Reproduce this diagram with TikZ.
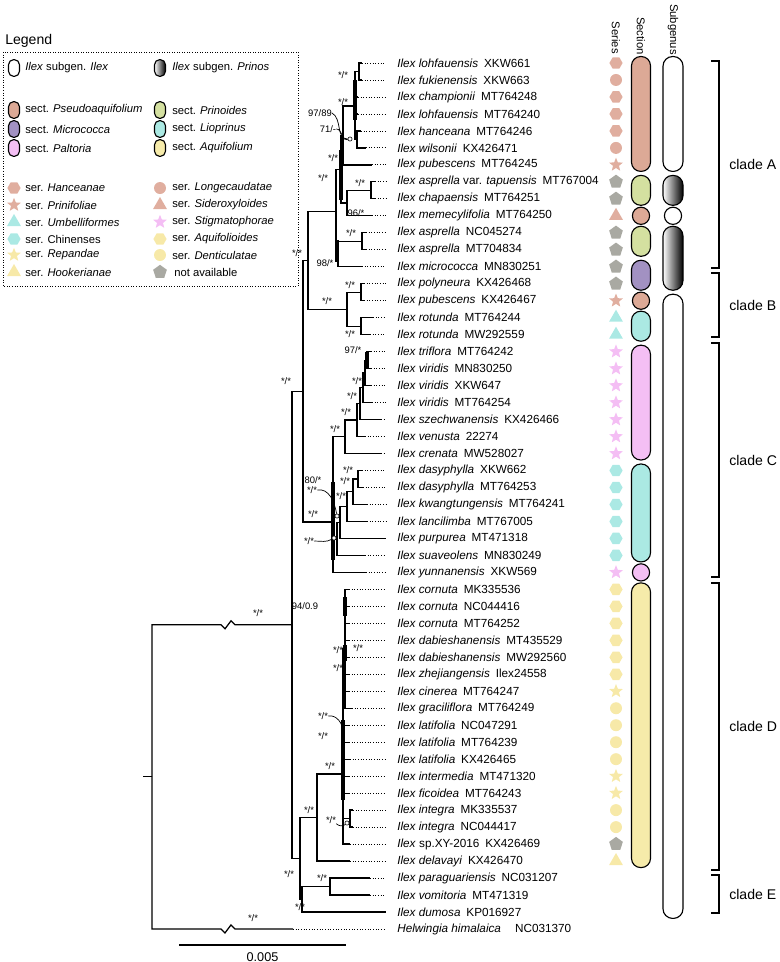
\documentclass[tikz,border=0pt]{standalone}
\usepackage{fontspec}
\setmainfont{Liberation Sans}
\usetikzlibrary{shapes.geometric}
\definecolor{secpseudo}{HTML}{DCA996}
\definecolor{secprin}{HTML}{D4E0A0}
\definecolor{secmicro}{HTML}{A291C2}
\definecolor{seclio}{HTML}{ABE9E3}
\definecolor{secpalt}{HTML}{F4BFF4}
\definecolor{secaqui}{HTML}{F6EBAA}
\definecolor{serpseudo}{HTML}{E0AE9F}
\definecolor{sercyan}{HTML}{ABE9E4}
\definecolor{serpink}{HTML}{F4BEF4}
\definecolor{seryellow}{HTML}{F7E9A8}
\definecolor{sergray}{HTML}{A9A9A2}
\newcommand{\accgap}{\hspace{0.5em}}
\tikzset{
  tree/.style={line width=0.9pt},
  thickbr/.style={line width=2.2pt},
  leader/.style={line width=0.6pt, dash pattern=on 0.6pt off 1.3pt},
  bslabel/.style={font=\fontsize{6.7}{7}\selectfont, inner sep=0pt},
  bsline/.style={line width=0.5pt},
  marker/.style={circle, draw, line width=0.4pt, fill=white, inner sep=0pt, minimum size=3pt},
  tipname/.style={anchor=west, inner sep=0pt, font=\fontsize{8.35}{10}\selectfont},
  sectcap/.style={draw, line width=0.8pt, rounded corners=2.3mm},
  subcap/.style={draw, line width=0.8pt, rounded corners=2.4mm},
  prinosfill/.style={left color=white, right color=black},
  cladebr/.style={line width=1.5pt},
  cladelbl/.style={anchor=west, inner sep=0pt, font=\fontsize{10}{12}\selectfont},
  colhead/.style={rotate=-90, anchor=east, inner sep=0pt, font=\fontsize{8}{9}\selectfont},
  legtxt/.style={anchor=west, inner sep=0pt, font=\fontsize{8}{9}\selectfont},
  legcap/.style={draw, line width=0.8pt, rounded corners=1.3mm, minimum width=2.75mm, minimum height=4.2mm, inner sep=0pt},
  sym/.style={inner sep=0pt, draw=none},
  hexS/.style={sym, regular polygon, regular polygon sides=6, minimum size=3.3mm, fill=serpseudo},
  hexC/.style={sym, regular polygon, regular polygon sides=6, minimum size=3.3mm, fill=sercyan},
  hexY/.style={sym, regular polygon, regular polygon sides=6, minimum size=3.3mm, fill=seryellow},
  circS/.style={sym, circle, minimum size=3mm, fill=serpseudo},
  circY/.style={sym, circle, minimum size=3mm, fill=seryellow},
  starS/.style={sym, star, star points=5, star point ratio=2.3, minimum size=3.6mm, fill=serpseudo},
  starP/.style={sym, star, star points=5, star point ratio=2.3, minimum size=3.6mm, fill=serpink},
  starY/.style={sym, star, star points=5, star point ratio=2.3, minimum size=3.6mm, fill=seryellow},
  triS/.style={sym, regular polygon, regular polygon sides=3, minimum size=4mm, fill=serpseudo},
  triC/.style={sym, regular polygon, regular polygon sides=3, minimum size=4mm, fill=sercyan},
  triY/.style={sym, regular polygon, regular polygon sides=3, minimum size=4mm, fill=seryellow},
  pentG/.style={sym, regular polygon, regular polygon sides=5, minimum size=3.6mm, fill=sergray},
}
\begin{document}
\begin{tikzpicture}[x=0.025cm, y=-0.025cm]
  \useasboundingbox (0,0) rectangle (780,962);
  \coordinate (dotend) at (386,0);

  % tips and names
  \foreach \i/\tx/\txt in {
    1/362/{\textit{Ilex lohfauensis}\accgap XKW661},
    2/362/{\textit{Ilex fukienensis}\accgap XKW663},
    3/358/{\textit{Ilex championii}\accgap MT764248},
    4/358/{\textit{Ilex lohfauensis}\accgap MT764240},
    5/361/{\textit{Ilex hanceana}\accgap MT764246},
    6/366/{\textit{Ilex wilsonii}\accgap KX426471},
    7/372/{\textit{Ilex pubescens}\accgap MT764245},
    8/375/{\textit{Ilex asprella} var. \textit{tapuensis}\accgap MT767004},
    9/375/{\textit{Ilex chapaensis}\accgap MT764251},
    10/372/{\textit{Ilex memecylifolia}\accgap MT764250},
    11/366/{\textit{Ilex asprella}\accgap NC045274},
    12/366/{\textit{Ilex asprella}\accgap MT704834},
    13/362/{\textit{Ilex micrococca}\accgap MN830251},
    14/364/{\textit{Ilex polyneura}\accgap KX426468},
    15/364/{\textit{Ilex pubescens}\accgap KX426467},
    16/373/{\textit{Ilex rotunda}\accgap MT764244},
    17/370/{\textit{Ilex rotunda}\accgap MW292559},
    18/371/{\textit{Ilex triflora}\accgap MT764242},
    19/371/{\textit{Ilex viridis}\accgap MN830250},
    20/371/{\textit{Ilex viridis}\accgap XKW647},
    21/372/{\textit{Ilex viridis}\accgap MT764254},
    22/381/{\textit{Ilex szechwanensis}\accgap KX426466},
    23/365/{\textit{Ilex venusta}\accgap 22274},
    24/381/{\textit{Ilex crenata}\accgap MW528027},
    25/362/{\textit{Ilex dasyphylla}\accgap XKW662},
    26/363/{\textit{Ilex dasyphylla}\accgap MT764253},
    27/367/{\textit{Ilex kwangtungensis}\accgap MT764241},
    28/367/{\textit{Ilex lancilimba}\accgap MT767005},
    29/385/{\textit{Ilex purpurea}\accgap MT471318},
    30/365/{\textit{Ilex suaveolens}\accgap MN830249},
    31/366/{\textit{Ilex yunnanensis}\accgap XKW569},
    32/349/{\textit{Ilex cornuta}\accgap MK335536},
    33/349/{\textit{Ilex cornuta}\accgap NC044416},
    34/349/{\textit{Ilex cornuta}\accgap MT764252},
    35/349/{\textit{Ilex dabieshanensis}\accgap MT435529},
    36/349/{\textit{Ilex dabieshanensis}\accgap MW292560},
    37/349/{\textit{Ilex zhejiangensis}\accgap Ilex24558},
    38/349/{\textit{Ilex cinerea}\accgap MT764247},
    39/352/{\textit{Ilex graciliflora}\accgap MT764249},
    40/349/{\textit{Ilex latifolia}\accgap NC047291},
    41/349/{\textit{Ilex latifolia}\accgap MT764239},
    42/350/{\textit{Ilex latifolia}\accgap KX426465},
    43/349/{\textit{Ilex intermedia}\accgap MT471320},
    44/349/{\textit{Ilex ficoidea}\accgap MT764243},
    45/353/{\textit{Ilex integra}\accgap MK335537},
    46/353/{\textit{Ilex integra}\accgap NC044417},
    47/350/{\textit{Ilex} sp.XY-2016\accgap KX426469},
    48/350/{\textit{Ilex delavayi}\accgap KX426470},
    49/370/{\textit{Ilex paraguariensis}\accgap NC031207},
    50/370/{\textit{Ilex vomitoria}\accgap MT471319},
    51/386/{\textit{Ilex dumosa}\accgap KP016927},
    52/293/{\textit{Helwingia himalaica}\hspace{1.2em}NC031370}} {
    \coordinate (t\i) at (\tx,{63+(\i-1)*16.98});
    \node[tipname] (l\i) at (397,{63+(\i-1)*16.98}) {\txt};
    \draw[leader] (t\i) -- (t\i -| dotend);
  }

  % internal nodes
  \coordinate (a12) at (359,71.5);
  \coordinate (a56) at (357,139.4);
  \coordinate (aC) at (355,106);
  \coordinate (a7) at (343,135.5);
  \coordinate (a89) at (371,190.35);
  \coordinate (a810) at (347,203.1);
  \coordinate (a1) at (341,169.3);
  \coordinate (a1112) at (362,241.3);
  \coordinate (a2) at (338,254.05);
  \coordinate (aA) at (336,211.7);
  \coordinate (b1415) at (361,292.2);
  \coordinate (b1617) at (361,326.2);
  \coordinate (bB) at (347,309.2);
  \coordinate (aAB) at (308,260.45);
  \coordinate (c1819) at (367,360.2);
  \coordinate (c20) at (365,372.9);
  \coordinate (c21) at (363,387.8);
  \coordinate (c22) at (360,403.7);
  \coordinate (c23) at (357,420.1);
  \coordinate (c24) at (345,436.8);
  \coordinate (d2526) at (358,479);
  \coordinate (d27) at (353,491.75);
  \coordinate (d28) at (347,506.6);
  \coordinate (d29) at (340,522.5);
  \coordinate (d30) at (337,538.95);
  \coordinate (cC) at (333,522);
  \coordinate (aABC) at (303,391.2);
  \coordinate (dt) at (345,648.8);
  \coordinate (dint) at (350,818.5);
  \coordinate (dL) at (343,774);
  \coordinate (dD) at (317,817.5);
  \coordinate (e4950) at (330,886.4);
  \coordinate (eE) at (302,899.2);
  \coordinate (aDE) at (300,858.35);
  \coordinate (aIn) at (292,624.8);
  \coordinate (root) at (152,776.8);

  % branches
  \foreach \p/\c in {a12/t1, a12/t2, aC/a12, aC/t3, aC/t4, aC/a56, a56/t5, a56/t6,
      a7/aC, a7/t7, a89/t8, a89/t9, a810/a89, a810/t10, a1/a7, a1/a810,
      a1112/t11, a1112/t12, a2/a1112, a2/t13, aA/a1, aA/a2,
      b1415/t14, b1415/t15, b1617/t16, b1617/t17, bB/b1415, bB/b1617, aAB/aA, aAB/bB,
      c1819/t18, c1819/t19, c20/c1819, c20/t20, c21/c20, c21/t21, c22/c21, c22/t22,
      c23/c22, c23/t23, c24/c23, c24/t24, d2526/t25, d2526/t26, d27/d2526, d27/t27,
      d28/d27, d28/t28, d29/d28, d29/t29, d30/d29, d30/t30, cC/c24, cC/d30, cC/t31,
      aABC/aAB, aABC/cC,
      dt/t32, dt/t33, dt/t34, dt/t35, dt/t36, dt/t37, dt/t38, dt/t39,
      dint/t45, dint/t46, dL/dt, dL/t40, dL/t41, dL/t42, dL/t43, dL/t44, dL/dint, dL/t47,
      dD/dL, dD/t48, e4950/t49, e4950/t50, eE/e4950, eE/t51, aDE/dD, aDE/eE,
      aIn/aABC, aIn/aDE}
    \draw[tree] (\p) |- (\c);

  % short branches drawn heavy
  \draw[thickbr] (355,80) -- (355,120);
  \draw[thickbr] (341,150) -- (341,200);
  \draw[thickbr] (337,240) -- (337,262);
  \draw[thickbr] (367,352) -- (367,368);
  \draw[thickbr] (333,482) -- (333,560);
  \draw[thickbr] (345,597) -- (345,616);
  \draw[thickbr] (345,645) -- (345,661);
  \draw[thickbr] (343,720) -- (343,800);

  % root with broken branches
  \coordinate (zzA) at (221,624.8);
  \coordinate (zzB) at (221,928.9);
  \draw[tree] (root) |- (zzA) -- ++(4,4) -- ++(6,-8) -- ++(4,4) -- (aIn);
  \draw[tree] (root) |- (zzB) -- ++(4,4) -- ++(6,-8) -- ++(4,4) -- (t52);
  \draw[tree] (root) -- ++(-9,0);

  % support values
  \node[bslabel] (sA1) at (343,75) {*/*};
  \node[bslabel] (sA2) at (343,102) {*/*};
  \node[bslabel] (sA3) at (320,113) {97/89};
  \node[bslabel] (sA4) at (328,129) {71/-};
  \node[bslabel] (sA5) at (333,158) {*/*};
  \node[bslabel] (sA6) at (323,178) {*/*};
  \node[bslabel] (sA7) at (360,183) {*/*};
  \node[bslabel] (sA8) at (356,213) {96/*};
  \node[bslabel] (sA9) at (351,233) {*/*};
  \node[bslabel] (sA10) at (325,263) {98/*};
  \node[bslabel] (sAB) at (297,253) {*/*};
  \node[bslabel] (sB1) at (350,285) {*/*};
  \node[bslabel] (sB2) at (327,301) {*/*};
  \node[bslabel] (sB3) at (350,334) {*/*};
  \node[bslabel] (sABC) at (286,381) {*/*};
  \node[bslabel] (sC1) at (353,350) {97/*};
  \node[bslabel] (sC2) at (357,381) {*/*};
  \node[bslabel] (sC3) at (352,396) {*/*};
  \node[bslabel] (sC4) at (346,412) {*/*};
  \node[bslabel] (sC5) at (335,429) {*/*};
  \node[bslabel] (sC6) at (348,470) {*/*};
  \node[bslabel] (sC7) at (345,481) {*/*};
  \node[bslabel] (sC8) at (341,496) {*/*};
  \node[bslabel] (sC9) at (313,480) {80/*};
  \node[bslabel] (sC10) at (312,490) {*/*};
  \node[bslabel] (sC11) at (313,514) {*/*};
  \node[bslabel] (sC12) at (309,541) {*/*};
  \node[bslabel] (sD1) at (305,606) {94/0.9};
  \node[bslabel] (sD2) at (338,650) {*/*};
  \node[bslabel] (sD3) at (358,648) {*/*};
  \node[bslabel] (sD4) at (338,668) {*/*};
  \node[bslabel] (sD5) at (323,716) {*/*};
  \node[bslabel] (sD6) at (323,736) {*/*};
  \node[bslabel] (sD7) at (330,766) {*/*};
  \node[bslabel] (sD8) at (309,810) {*/*};
  \node[bslabel] (sD9) at (331,820) {*/*};
  \node[bslabel] (sE1) at (322,878) {*/*};
  \node[bslabel] (sDE) at (289,874) {*/*};
  \node[bslabel] (sE2) at (300,907) {*/*};
  \node[bslabel] (sR1) at (258,613) {*/*};
  \node[bslabel] (sR2) at (253,918) {*/*};

  % leaders to tiny nodes
  \node[marker] (mA) at (350,139) {};
  \node[marker] (mC1) at (337,516) {};
  \node[marker] (mC2) at (334,538) {};
  \node[marker] (mD2) at (347,823) {};
  \coordinate (mD1) at (343,732);
  \draw[bsline] (sA3.east) to[out=-30, in=180] (mA);
  \draw[bsline] (sA4.east) to[out=0, in=200] (mA);
  \draw[bsline] (sC10.east) to[out=10, in=100] (mC1);
  \draw[bsline] (sC12.east) to[out=0, in=210] (mC2);
  \draw[bsline] (sD5.east) to[out=10, in=90] (mD1);
  \draw[bsline] (sD9.south east) to[out=-40, in=220] (mD2);

  % scale bar
  \coordinate (sb1) at (179,945);
  \coordinate (sb2) at (346,945);
  \draw[tree] (sb1) -- (sb2);
  \node[font=\fontsize{9}{10}\selectfont, inner sep=0pt] (sbl) at (262.5,957) {0.005};

  % column heads
  \node[colhead] (hSer) at (616,54) {Series};
  \node[colhead] (hSec) at (641,55) {Section};
  \node[colhead] (hSub) at (673,55) {Subgenus};

  % series symbols
  \foreach \i/\s in {1/hexS, 2/circS, 3/hexS, 4/hexS, 5/hexS, 6/circS, 7/starS, 8/pentG,
      9/pentG, 10/triS, 11/pentG, 12/pentG, 13/pentG, 14/pentG, 15/starS, 16/triC, 17/triC,
      18/starP, 19/starP, 20/starP, 21/starP, 22/starP, 23/starP, 24/starP,
      25/hexC, 26/hexC, 27/hexC, 28/hexC, 29/hexC, 30/hexC, 31/starP,
      32/hexY, 33/hexY, 34/hexY, 35/hexY, 36/hexY, 37/hexY, 38/starY, 39/circY,
      40/circY, 41/circY, 42/circY, 43/starY, 44/starY, 45/circY, 46/circY, 47/pentG, 48/triY}
    \node[\s] (ser\i) at (616,{63+(\i-1)*16.98}) {};

  % sections
  \draw[sectcap, fill=secpseudo] (631.5,56.5) rectangle (650.5,171.4);
  \draw[sectcap, fill=secprin] (631.5,175.4) rectangle (650.5,205.3);
  \draw[line width=0.8pt, fill=secpseudo] (641,215.8) circle[radius=2.15mm];
  \draw[sectcap, fill=secprin] (631.5,226.3) rectangle (650.5,256.3);
  \draw[sectcap, fill=secmicro] (631.5,260.3) rectangle (650.5,290.2);
  \draw[line width=0.8pt, fill=secpseudo] (641,300.7) circle[radius=2.15mm];
  \draw[sectcap, fill=seclio] (631.5,311.2) rectangle (650.5,341.2);
  \draw[sectcap, fill=secpalt] (631.5,345.2) rectangle (650.5,460);
  \draw[sectcap, fill=seclio] (631.5,464) rectangle (650.5,561.9);
  \draw[line width=0.8pt, fill=secpalt] (641,572.4) circle[radius=2.15mm];
  \draw[sectcap, fill=secaqui] (631.5,582.9) rectangle (650.5,867.6);

  % subgenera
  \draw[subcap, fill=white] (663,56.5) rectangle (683,171.4);
  \draw[subcap, prinosfill] (663,175.4) rectangle (683,205.3);
  \draw[line width=0.8pt, fill=white] (673,215.8) circle[radius=2.15mm];
  \draw[subcap, prinosfill] (663,226.3) rectangle (683,290.2);
  \draw[subcap, fill=white] (663,294.2) rectangle (683,918.4);

  % clades
  \draw[cladebr] (711,61) -- (719,61) -- (719,268) -- (711,268);
  \draw[cladebr] (711,273) -- (719,273) -- (719,337) -- (711,337);
  \draw[cladebr] (711,343) -- (719,343) -- (719,577) -- (711,577);
  \draw[cladebr] (711,583) -- (719,583) -- (719,870) -- (711,870);
  \draw[cladebr] (711,875) -- (719,875) -- (719,913) -- (711,913);
  \node[cladelbl] (clA) at (729,164.5) {clade A};
  \node[cladelbl] (clB) at (729,305) {clade B};
  \node[cladelbl] (clC) at (729,460) {clade C};
  \node[cladelbl] (clD) at (729,726.5) {clade D};
  \node[cladelbl] (clE) at (729,894) {clade E};

  % legend
  \node[anchor=west, inner sep=0pt, font=\fontsize{10}{12}\selectfont] (lgTitle) at (5,41) {Legend};
  \draw[line width=0.6pt, dash pattern=on 0.6pt off 1.2pt] (3,52) rectangle (298,286);
  \node[legcap, fill=white] (lgIlex) at (14,68) {};
  \node[legtxt] (lgIlexT) at (25,68) {\textit{Ilex} subgen. \textit{Ilex}};
  \node[legcap, prinosfill] (lgPrin) at (160,68) {};
  \node[legtxt] (lgPrinT) at (172,68) {\textit{Ilex} subgen. \textit{Prinos}};
  \node[legcap, fill=secpseudo] (lgPs) at (14,110) {};
  \node[legtxt] (lgPsT) at (25,110) {sect. \textit{Pseudoaquifolium}};
  \node[legcap, fill=secprin] (lgPr) at (160,110) {};
  \node[legtxt] (lgPrT) at (172,110) {sect. \textit{Prinoides}};
  \node[legcap, fill=secmicro] (lgMi) at (14,129) {};
  \node[legtxt] (lgMiT) at (25,129) {sect. \textit{Micrococca}};
  \node[legcap, fill=seclio] (lgLi) at (160,129) {};
  \node[legtxt] (lgLiT) at (172,129) {sect. \textit{Lioprinus}};
  \node[legcap, fill=secpalt] (lgPa) at (14,148) {};
  \node[legtxt] (lgPaT) at (25,148) {sect. \textit{Paltoria}};
  \node[legcap, fill=secaqui] (lgAq) at (160,148) {};
  \node[legtxt] (lgAqT) at (172,148) {sect. \textit{Aquifolium}};
  \node[hexS] (lgS1) at (14,188) {};
  \node[legtxt] (lgS1T) at (25,188) {ser. \textit{Hanceanae}};
  \node[circS] (lgS2) at (160,188) {};
  \node[legtxt] (lgS2T) at (172,188) {ser. \textit{Longecaudatae}};
  \node[starS] (lgS3) at (14,205) {};
  \node[legtxt] (lgS3T) at (25,205) {ser. \textit{Prinifoliae}};
  \node[triS] (lgS4) at (160,205) {};
  \node[legtxt] (lgS4T) at (172,205) {ser. \textit{Sideroxyloides}};
  \node[triC] (lgS5) at (14,222) {};
  \node[legtxt] (lgS5T) at (25,222) {ser. \textit{Umbelliformes}};
  \node[starP] (lgS6) at (160,222) {};
  \node[legtxt] (lgS6T) at (172,222) {ser. \textit{Stigmatophorae}};
  \node[hexC] (lgS7) at (14,239) {};
  \node[legtxt] (lgS7T) at (25,239) {ser. Chinenses};
  \node[hexY] (lgS8) at (160,239) {};
  \node[legtxt] (lgS8T) at (172,239) {ser. \textit{Aquifolioides}};
  \node[starY] (lgS9) at (14,255) {};
  \node[legtxt] (lgS9T) at (25,255) {ser. \textit{Repandae}};
  \node[circY] (lgS10) at (160,255) {};
  \node[legtxt] (lgS10T) at (172,255) {ser. \textit{Denticulatae}};
  \node[triY] (lgS11) at (14,272) {};
  \node[legtxt] (lgS11T) at (25,272) {ser. \textit{Hookerianae}};
  \node[pentG] (lgS12) at (160,272) {};
  \node[legtxt] (lgS12T) at (174,272) {not available};
\end{tikzpicture}
\end{document}
